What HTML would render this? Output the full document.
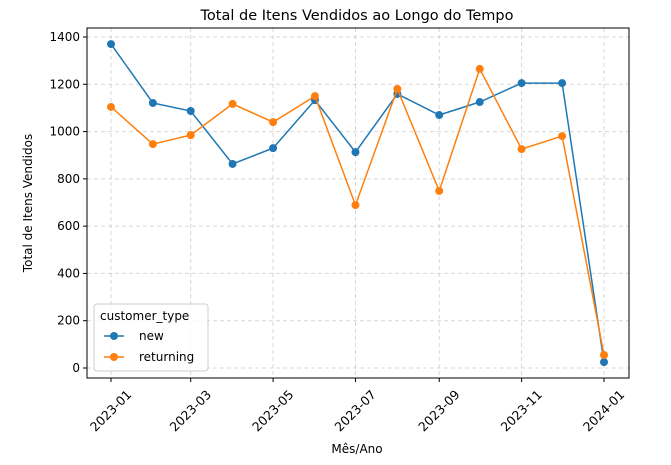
<!DOCTYPE html>
<html><head><meta charset="utf-8"><style>
body{margin:0;background:#fff;}
svg text{font-family:"DejaVu Sans","Liberation Sans",sans-serif;}
</style></head><body>
<svg id="chart" width="671" height="460" xmlns="http://www.w3.org/2000/svg">
<text x="357" y="20" text-anchor="middle" font-size="14.5">Total de Itens Vendidos ao Longo do Tempo</text>
<g id="grid"></g><g id="axes"></g><g id="series"></g>
<text x="357" y="453" text-anchor="middle" font-size="12">Mês/Ano</text>
<text transform="translate(32,203) rotate(-90)" text-anchor="middle" font-size="12">Total de Itens Vendidos</text>
<g>
<rect x="94" y="304" width="114" height="67" rx="3" fill="#fff" fill-opacity="0.8" stroke="#ccc"/>
<text x="100" y="320" font-size="12">customer_type</text>
<line x1="104" y1="336" x2="124" y2="336" stroke="#1f77b4" stroke-width="1.5"/><circle cx="114" cy="336" r="4" fill="#1f77b4"/>
<text x="139" y="340" font-size="12">new</text>
<line x1="104" y1="357" x2="124" y2="357" stroke="#ff7f0e" stroke-width="1.5"/><circle cx="114" cy="357" r="4" fill="#ff7f0e"/>
<text x="139" y="361" font-size="12">returning</text>
</g>
</svg>
<script>
const months=["2023-01","2023-02","2023-03","2023-04","2023-05","2023-06","2023-07","2023-08","2023-09","2023-10","2023-11","2023-12","2024-01"];
const newValues=[1370,1121,1087,863,930,1133,913,1159,1070,1125,1205,1205,25];
const returningValues=[1104,947,985,1117,1040,1150,689,1180,749,1265,926,981,55];
const yTicks=[0,200,400,600,800,1000,1200,1400];
const xTickLabels=["2023-01","2023-03","2023-05","2023-07","2023-09","2023-11","2024-01"];
const L=87,R=629,T=28,B=378;
const ns="http://www.w3.org/2000/svg";
const t0=Date.UTC(2023,0,1),t1=Date.UTC(2024,0,1);
function day(m){const[a,b]=m.split("-").map(Number);return Date.UTC(a,b-1,1);}
function x(m){return 111+(day(m)-t0)/(t1-t0)*493;}
function y(v){return 368-v*(331/1400);}
function mk(tag,attrs,parent){const e=document.createElementNS(ns,tag);for(const k in attrs)e.setAttribute(k,attrs[k]);parent.appendChild(e);return e;}
const grid=document.getElementById("grid"),axes=document.getElementById("axes"),ser=document.getElementById("series");
yTicks.forEach(v=>{
 const g=mk("line",{x1:L,x2:R,y1:y(v),y2:y(v),stroke:"#b0b0b0","stroke-dasharray":"4,3","stroke-opacity":"0.5"},grid);
 
 
 mk("line",{x1:L-4,x2:L,y1:y(v),y2:y(v),stroke:"#000"},axes);
 const t=mk("text",{x:L-7,y:y(v)+4,"text-anchor":"end","font-size":"12"},axes);t.textContent=v;
 
 
});
xTickLabels.forEach(m=>{
 const xx=x(m);
 const g=mk("line",{x1:xx,x2:xx,y1:T,y2:B,stroke:"#b0b0b0","stroke-dasharray":"4,3","stroke-opacity":"0.5"},grid);
 
 
 mk("line",{x1:xx,x2:xx,y1:B,y2:B+4,stroke:"#000"},axes);
 const t=mk("text",{x:0,y:4,"text-anchor":"middle","font-size":"12.5",transform:`translate(${xx},${B+33}) rotate(-45)`},axes);t.textContent=m;
 
 
});
mk("rect",{x:L,y:T,width:R-L,height:B-T,fill:"none",stroke:"#000"},axes);
function drawSeries(vals,color,name){
 const p=mk("polyline",{points:vals.map((v,i)=>x(months[i])+","+y(v)).join(" "),fill:"none",stroke:color,"stroke-width":"1.5"},ser);
 
 
 vals.forEach((v,i)=>{const c=mk("circle",{cx:x(months[i]),cy:y(v),r:4,fill:color},ser);
 
 });
}
drawSeries(newValues,"#1f77b4","new");
drawSeries(returningValues,"#ff7f0e","returning");
</script>
</body></html>
